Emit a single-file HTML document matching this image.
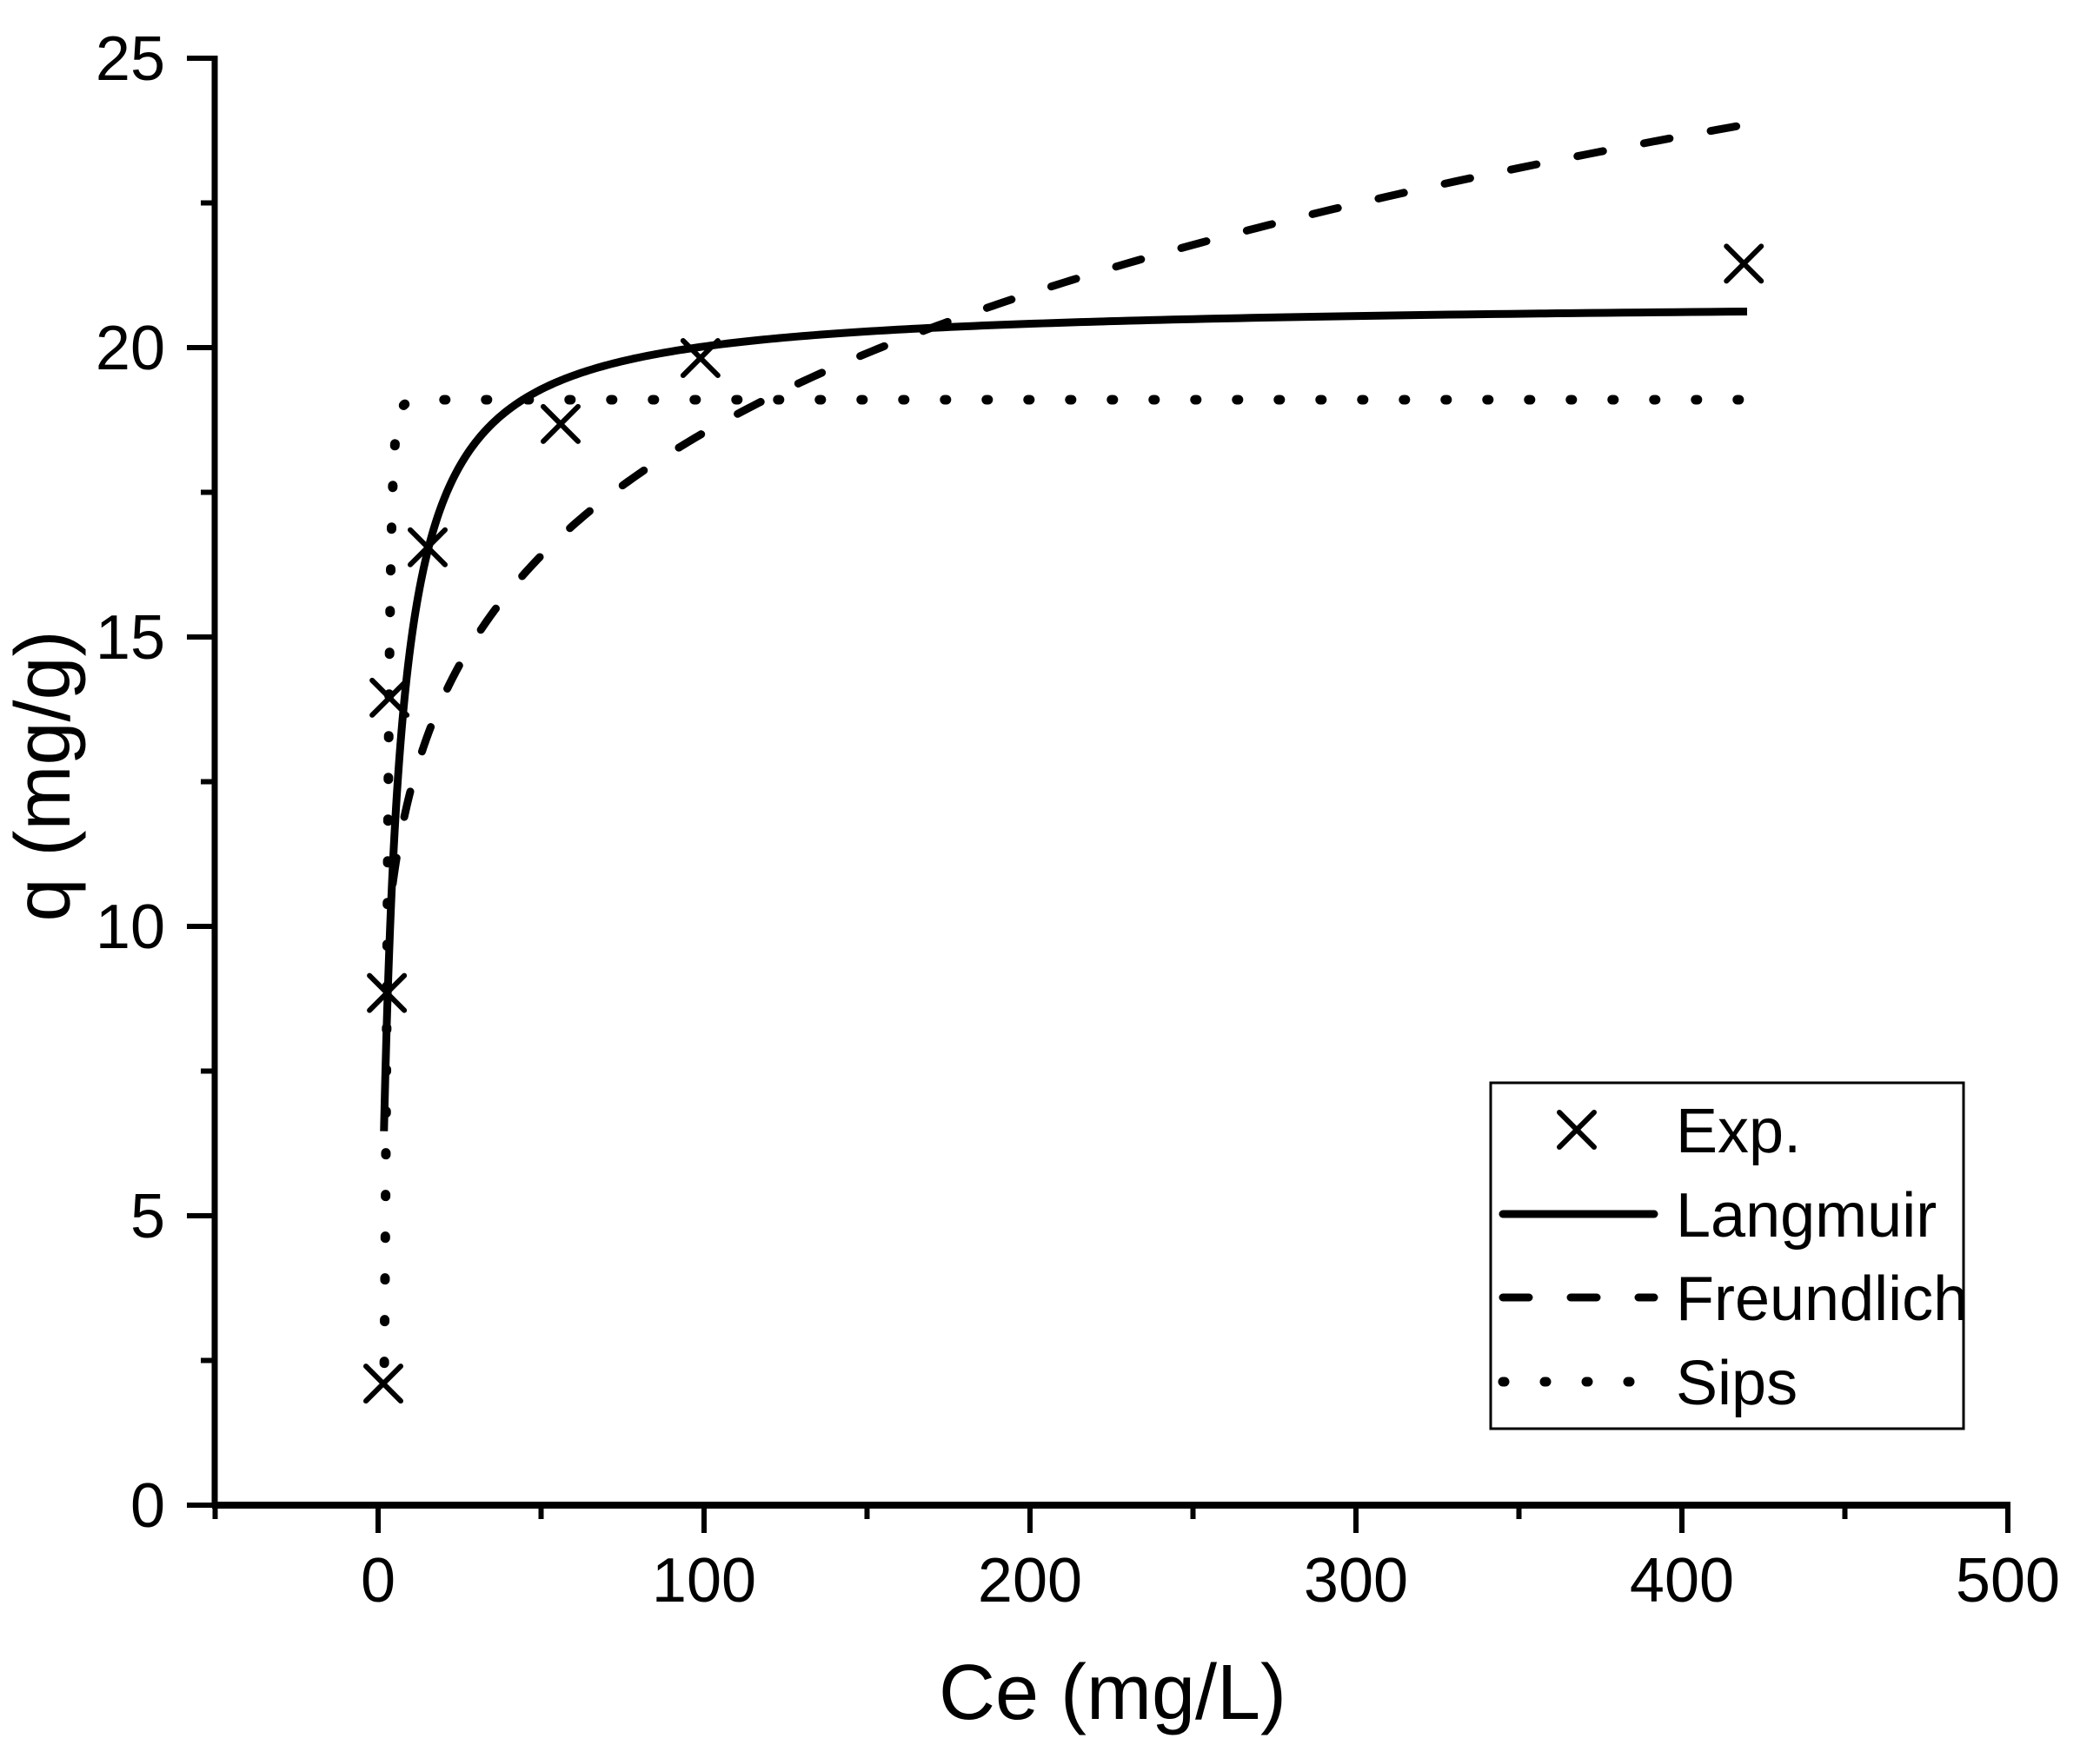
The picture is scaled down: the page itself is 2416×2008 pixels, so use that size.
<!DOCTYPE html>
<html><head><meta charset="utf-8"><style>
html,body{margin:0;padding:0;background:#fff;}
svg{display:block;font-family:"Liberation Sans",Arial,sans-serif;}
</style></head><body>
<svg id="s" width="2416" height="2008" viewBox="0 0 2416 2008" xmlns="http://www.w3.org/2000/svg">
<rect width="2416" height="2008" fill="#fff"/>
<g id="ticks" stroke="#000" stroke-width="6" fill="none"></g>
<line x1="247" y1="64" x2="247" y2="1735" stroke="#000" stroke-width="7"/>
<line x1="244" y1="1732" x2="2313" y2="1732" stroke="#000" stroke-width="8"/>
<g font-size="72" fill="#000" text-anchor="end">
<text x="190" y="1757">0</text><text x="190" y="1424">5</text><text x="190" y="1091">10</text>
<text x="190" y="758">15</text><text x="190" y="425">20</text><text x="190" y="92">25</text>
</g>
<g font-size="72" fill="#000" text-anchor="middle">
<text x="435" y="1843">0</text><text x="810" y="1843">100</text><text x="1185" y="1843">200</text>
<text x="1560" y="1843">300</text><text x="1935" y="1843">400</text><text x="2310" y="1843">500</text>
</g>
<text x="1280" y="1978" font-size="90" text-anchor="middle">Ce (mg/L)</text>
<text transform="translate(80,893) rotate(-90)" font-size="90" text-anchor="middle">q (mg/g)</text>
<path id="lang" fill="none" stroke="#000" stroke-width="9" stroke-linejoin="round"/>
<path id="freu" fill="none" stroke="#000" stroke-width="9" stroke-dasharray="30 48" stroke-linecap="round"/>
<path id="sips" fill="none" stroke="#000" stroke-width="11" stroke-dasharray="2 46" stroke-linecap="round"/>
<g id="marks" stroke="#000" stroke-width="6" stroke-linecap="round"></g>
<rect x="1715" y="1246" width="544" height="398" fill="none" stroke="#000" stroke-width="3"/>
<g stroke="#000" stroke-width="6" stroke-linecap="round">
<line x1="1794" y1="1280" x2="1834" y2="1320"/><line x1="1794" y1="1320" x2="1834" y2="1280"/>
</g>
<line x1="1729" y1="1397" x2="1903" y2="1397" stroke="#000" stroke-width="9" stroke-linecap="round"/>
<line x1="1729" y1="1493" x2="1903" y2="1493" stroke="#000" stroke-width="9" stroke-linecap="round" stroke-dasharray="30 48"/>
<line x1="1729" y1="1590" x2="1903" y2="1590" stroke="#000" stroke-width="11" stroke-linecap="round" stroke-dasharray="2 46"/>
<g font-size="72" fill="#000">
<text x="1928" y="1326">Exp.</text><text x="1928" y="1423">Langmuir</text>
<text x="1928" y="1519">Freundlich</text><text x="1928" y="1616">Sips</text>
</g>
</svg>
<script>
var X=function(c){return 435+3.75*c;},Y=function(q){return 1732-66.6*q;};
var t='';
for(var v=0;v<=25.001;v+=2.5){var maj=Math.abs(v/5-Math.round(v/5))<1e-6;var y=Y(v);t+='<line x1="'+(maj?215:231)+'" y1="'+y+'" x2="247" y2="'+y+'"/>';}
for(var c=-50;c<=500;c+=50){var maj=(c%100===0);var x=X(c);t+='<line x1="'+x+'" y1="1732" x2="'+x+'" y2="'+(maj?1764:1748)+'"/>';}
document.getElementById('ticks').innerHTML=t;
function path(f,a,b,n,log){var d='';for(var i=0;i<=n;i++){var c=log?a*Math.pow(b/a,i/n):a+(b-a)*i/n;d+=(i?'L':'M')+X(c).toFixed(2)+','+Y(f(c)).toFixed(2);}return d;}
document.getElementById('lang').setAttribute('d',path(function(c){return 20.82*0.25*c/(1+0.25*c);},1.8,420,400,true));
document.getElementById('freu').setAttribute('d',path(function(c){return 8.24*Math.pow(c,0.176);},4.5,420,400,true));
document.getElementById('sips').setAttribute('d',path(function(c){var k=Math.pow(0.361*c,5.08);return 19.1*k/(1+k);},1.9,420,600,true));
var pts=[[1.6,2.1],[2.7,8.85],[3.5,13.95],[15.2,16.55],[56,18.68],[98.9,19.82],[419,21.45]];
var m='';pts.forEach(function(p){var x=X(p[0]),y=Y(p[1]);m+='<line x1="'+(x-20)+'" y1="'+(y-20)+'" x2="'+(x+20)+'" y2="'+(y+20)+'"/><line x1="'+(x-20)+'" y1="'+(y+20)+'" x2="'+(x+20)+'" y2="'+(y-20)+'"/>';});
document.getElementById('marks').innerHTML=m;
</script>
</body></html>
